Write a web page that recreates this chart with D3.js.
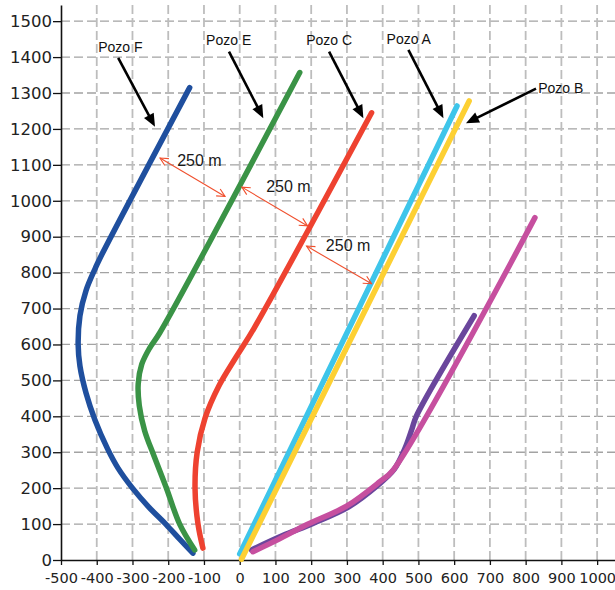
<!DOCTYPE html>
<html>
<head>
<meta charset="utf-8">
<script src="https://cdn.jsdelivr.net/npm/d3@7"></script>
<style>
  body { margin: 0; background: #fff; }
  svg { display: block; }
</style>
</head>
<body>
<svg id="chart" width="615" height="590"></svg>
<script>
// Well trajectories in plan view: [east (m), north (m)]
const pozoF = [[-131,19],[-168,58],[-205,98],[-255,148],[-300,200],[-340,255],[-370,310],[-405,390],[-430,465],[-447,540],[-452,600],[-447,680],[-430,750],[-405,810],[-392,838],[-140,1315]];
const pozoE = [[-126,28],[-168,100],[-205,200],[-240,290],[-266,360],[-281,430],[-284,490],[-274,545],[-252,590],[-224,632],[168,1357]];
const pozoC = [[-103,33],[-117,102],[-125,200],[-119,300],[-97,395],[-58,485],[-10,565],[40,645],[369,1245]];
const pozoA = [[0,17],[608,1264]];
const pozoB = [[5,2],[642,1278]];
const pozoPurple = [[33,28],[120,68],[205,102],[305,148],[385,207],[432,252],[462,310],[482,365],[494,400],[656,680]];
const pozoMagenta = [[37,23],[110,58],[187,98],[299,150],[392,218],[429,250],[826,953]];

// Axis ticks
const xTickValues = d3.range(-500, 1001, 100);
const yTickValues = d3.range(0, 1501, 100);

// Well name callouts
const wellNames = ["Pozo F", "Pozo E", "Pozo C", "Pozo A", "Pozo B"];
const nameTextPos = [[-396,1414],[-94,1434],[186,1434],[411,1437],[835,1301]];
const nameArrowFrom = [[-340,1398],[-30,1415],[250,1415],[472,1420],[829,1312]];
const nameArrowTo = [[-237,1206],[66,1230],[346,1230],[570,1230],[633,1216]];

// Spacing markers between neighbouring wells
const spacingLabel = "250 m";
const spacingFrom = [[-223,1119],[6,1038],[187,874]];
const spacingTo = [[-41,1012],[190,930],[369,769]];
const spacingTextPos = [[-175,1097],[74,1024],[241,861]];

const svg = d3.select("#chart");
const x = d3.scaleLinear().domain([-500, 1050]).range([61, 615]);
const y = d3.scaleLinear().domain([0, 1545]).range([560, 5]);

// Grid
const grid = svg.append("g");
grid.selectAll("line.h").data(yTickValues.filter(d => d > 0)).join("line")
  .attr("x1", x(-500)).attr("x2", x(1050))
  .attr("y1", d => y(d)).attr("y2", d => y(d))
  .attr("stroke", "#a3a3a3").attr("stroke-width", 1.3).attr("stroke-dasharray", "9,4");
grid.selectAll("line.v").data(xTickValues.filter(d => d > -500)).join("line")
  .attr("x1", d => x(d)).attr("x2", d => x(d))
  .attr("y1", y(0)).attr("y2", y(1545))
  .attr("stroke", "#bdbdbd").attr("stroke-width", 1.8).attr("stroke-dasharray", "9,4");

// Axes
const xAxis = svg.append("g").attr("transform", `translate(0,${y(0)})`)
  .call(d3.axisBottom(x).tickValues(xTickValues).tickFormat(d => String(d)).tickSize(5).tickPadding(8).tickSizeOuter(0));
xAxis.selectAll("text").attr("font-family", "DejaVu Sans").attr("font-size", "14.5px").attr("fill", "#222");
const yAxis = svg.append("g").attr("transform", `translate(${x(-500)},0)`)
  .call(d3.axisLeft(y).tickValues(yTickValues).tickFormat(d => String(d)).tickSize(8).tickPadding(1).tickSizeOuter(0));
yAxis.selectAll("text").attr("font-family", "DejaVu Sans").attr("font-size", "16.5px").attr("fill", "#222");
[xAxis, yAxis].forEach(a => {
  a.select(".domain").attr("stroke", "#111").attr("stroke-width", 1.6);
  a.selectAll(".tick line").attr("stroke", "#111").attr("stroke-width", 1.3);
});

// Trajectories
const smooth = d3.line().x(d => x(d[0])).y(d => y(d[1])).curve(d3.curveCatmullRom.alpha(0.5));
const wells = [
  [pozoPurple, "#6a469c"],
  [pozoMagenta, "#c64f9f"],
  [pozoF, "#1f4f9e"],
  [pozoE, "#3a9346"],
  [pozoC, "#ee4230"],
  [pozoA, "#3ec5ea"],
  [pozoB, "#fdd033"]
];
svg.append("g").selectAll("path").data(wells).join("path")
  .attr("d", d => smooth(d[0]))
  .attr("fill", "none").attr("stroke", d => d[1])
  .attr("stroke-width", 5.5).attr("stroke-linecap", "round").attr("stroke-linejoin", "round");

// Spacing arrows (double-headed, open heads)
function openHead(g, px, py, qx, qy, len, half, color) {
  const ang = Math.atan2(qy - py, qx - px);
  const bx = qx - len * Math.cos(ang), by = qy - len * Math.sin(ang);
  const nx = -Math.sin(ang) * half, ny = Math.cos(ang) * half;
  g.append("path")
    .attr("d", `M${bx + nx},${by + ny}L${qx},${qy}L${bx - nx},${by - ny}`)
    .attr("fill", "none").attr("stroke", color).attr("stroke-width", 1.1);
}
const spacing = svg.append("g");
spacingFrom.forEach((f, i) => {
  const t = spacingTo[i];
  const x1 = x(f[0]), y1 = y(f[1]), x2 = x(t[0]), y2 = y(t[1]);
  spacing.append("line").attr("x1", x1).attr("y1", y1).attr("x2", x2).attr("y2", y2)
    .attr("stroke", "#f0502e").attr("stroke-width", 1.1);
  openHead(spacing, x1, y1, x2, y2, 8, 4, "#f0502e");
  openHead(spacing, x2, y2, x1, y1, 8, 4, "#f0502e");
  spacing.append("text").attr("x", x(spacingTextPos[i][0])).attr("y", y(spacingTextPos[i][1]))
    .attr("font-family", "Liberation Sans, Arial, sans-serif").attr("font-size", "16px").attr("fill", "#1a1a1a")
    .text(spacingLabel);
});

// Name labels with black arrows
const callouts = svg.append("g");
wellNames.forEach((name, i) => {
  const f = nameArrowFrom[i], t = nameArrowTo[i];
  const x1 = x(f[0]), y1 = y(f[1]), x2 = x(t[0]), y2 = y(t[1]);
  const ang = Math.atan2(y2 - y1, x2 - x1);
  const len = 13, half = 5.5;
  const bx = x2 - len * Math.cos(ang), by = y2 - len * Math.sin(ang);
  const nx = -Math.sin(ang) * half, ny = Math.cos(ang) * half;
  callouts.append("line").attr("x1", x1).attr("y1", y1).attr("x2", bx + 2 * Math.cos(ang)).attr("y2", by + 2 * Math.sin(ang))
    .attr("stroke", "#000").attr("stroke-width", 2.6);
  callouts.append("path").attr("d", `M${bx + nx},${by + ny}L${x2},${y2}L${bx - nx},${by - ny}Z`)
    .attr("fill", "#000");
  callouts.append("text").attr("x", x(nameTextPos[i][0])).attr("y", y(nameTextPos[i][1]))
    .attr("font-family", "Liberation Sans, Arial, sans-serif").attr("font-size", "14px").attr("fill", "#111")
    .text(name);
});
</script>
</body>
</html>
